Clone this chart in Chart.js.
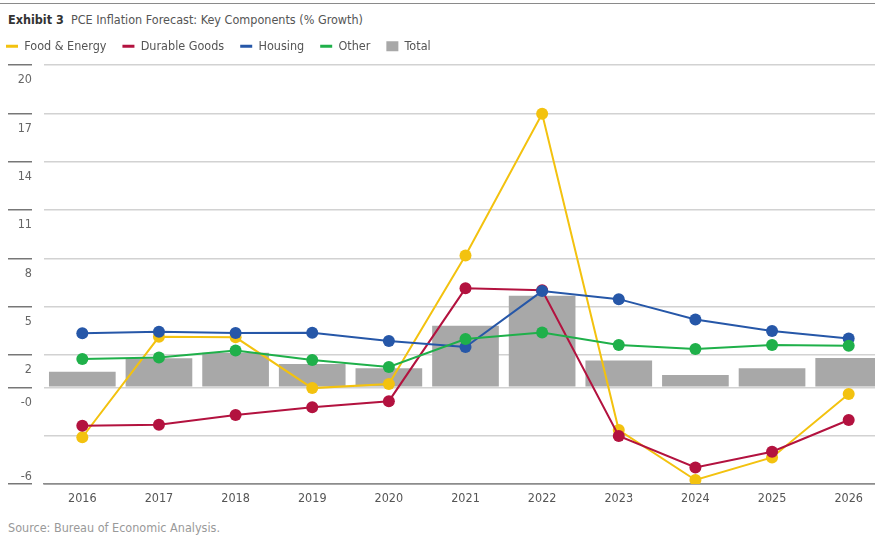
<!DOCTYPE html>
<html>
<head>
<meta charset="utf-8">
<script src="https://cdn.jsdelivr.net/npm/chart.js@4"></script>
<style>
  body { margin: 0; background: #fff; overflow: hidden; width: 875px; height: 536px; position: relative;
         font-family: "DejaVu Sans Condensed", sans-serif; }
  #rule { position: absolute; left: 0; top: 3px; width: 875px; border-top: 1px solid #8a8a8a; }
  #title { position: absolute; left: 8px; top: 12px; font-size: 12.5px; color: #555; white-space: nowrap; }
  #title b { color: #333; }
  #source { position: absolute; left: 8px; top: 520px; font-size: 12.5px; color: #999; }
  /* el lienzo es más ancho que la ventana: la última barra queda cortada como en el original */
  #wrap { position: absolute; left: -10px; top: 24px; width: 903px; height: 489px; }
</style>
</head>
<body>
<div id="rule"></div>
<div id="title"><b>Exhibit 3</b>&nbsp; PCE Inflation Forecast: Key Components (% Growth)</div>
<div id="wrap"><canvas id="chart" width="903" height="489"></canvas></div>
<div id="source">Source: Bureau of Economic Analysis.</div>
<script>
// Años del eje X
const years = ['2016', '2017', '2018', '2019', '2020', '2021', '2022', '2023', '2024', '2025', '2026'];

// Valores (% crecimiento)
const foodEnergy = [-3.1, 3.13, 3.1, -0.05, 0.2, 8.18, 16.97, -2.65, -5.75, -4.35, -0.42];
const durableGoods = [-2.38, -2.33, -1.72, -1.24, -0.86, 6.14, 6.02, -3.02, -4.97, -4.0, -2.03];
const housing = [3.36, 3.45, 3.37, 3.38, 2.88, 2.5, 5.97, 5.47, 4.21, 3.5, 3.03];
const other = [1.76, 1.85, 2.28, 1.7, 1.26, 3.0, 3.4, 2.63, 2.37, 2.62, 2.58];
const total = [0.96, 1.8, 2.14, 1.45, 1.18, 3.82, 5.68, 1.66, 0.77, 1.18, 1.82];

// Marcas del eje Y y sus etiquetas
const yTickValues = [-6, -3, 0, 2, 5, 8, 11, 14, 17, 20];
const yTickLabels = ['-6', '', '-0', '2', '5', '8', '11', '14', '17', '20'];

const FONT = '"DejaVu Sans Condensed", sans-serif';

function lineSet(label, values, color, order) {
    return {
        type: 'line',
        label: label,
        data: values,
        borderColor: color,
        backgroundColor: color,
        borderWidth: 2,
        pointRadius: 6,
        pointHoverRadius: 6,
        pointBorderWidth: 0,
        pointBackgroundColor: color,
        tension: 0,
        order: order // más bajo = se dibuja encima
    };
}

const ctx = document.getElementById('chart').getContext('2d');

const chart = new Chart(ctx, {
    type: 'bar',
    data: {
        labels: years,
        datasets: [
            lineSet('Food & Energy', foodEnergy, '#f3c20f', 4),
            lineSet('Durable Goods', durableGoods, '#b3123f', 3),
            lineSet('Housing', housing, '#2657a8', 2),
            lineSet('Other', other, '#1fb04a', 1),
            {
                type: 'bar',
                label: 'Total',
                data: total,
                backgroundColor: '#a8a8a8',
                categoryPercentage: 1,
                barPercentage: 0.87,
                order: 5
            }
        ]
    },
    options: {
        responsive: false,
        animation: false,
        layout: { padding: 0 },
        plugins: {
            tooltip: { enabled: false },
            legend: {
                position: 'top',
                align: 'start',
                labels: {
                    usePointStyle: true,
                    pointStyleWidth: 12,
                    boxHeight: 10,
                    padding: 16,
                    color: '#555',
                    font: { family: FONT, size: 12.5 },
                    // Leyenda en el orden de los datasets: líneas cortas y un cuadrado para el total
                    generateLabels: function (chart) {
                        return chart.data.datasets.map((ds, i) => {
                            const isLine = ds.type === 'line';
                            return {
                                text: ds.label,
                                fillStyle: isLine ? ds.borderColor : ds.backgroundColor,
                                strokeStyle: isLine ? ds.borderColor : ds.backgroundColor,
                                lineWidth: isLine ? 3 : 0,
                                pointStyle: isLine ? 'line' : 'rect',
                                fontColor: '#555',
                                hidden: false,
                                datasetIndex: i
                            };
                        });
                    }
                }
            }
        },
        scales: {
            x: {
                offset: true,
                grid: { display: false, drawTicks: false },
                border: { display: true, color: '#8c8c8c', width: 1.5 },
                ticks: { color: '#555', padding: 7, font: { family: FONT, size: 12.5 } }
            },
            y: {
                min: -6,
                max: 20.155,
                afterBuildTicks: function (scale) {
                    scale.ticks = yTickValues.map(v => ({ value: v }));
                },
                afterFit: function (scale) {
                    scale.width = 54;
                },
                border: { display: false },
                grid: {
                    color: c => (c.tick && c.tick.value === -6) ? '#8c8c8c' : '#d2d2d2',
                    lineWidth: 1.5,
                    drawTicks: true,
                    tickLength: 36,
                    tickWidth: 1.5,
                    tickColor: c => (c.tick && c.tick.value === -3) ? 'rgba(0,0,0,0)' : '#777',
                    tickBorderDash: [24, 100] // marca corta a la izquierda y hueco antes de la rejilla
                },
                ticks: {
                    autoSkip: false,
                    padding: -24,
                    color: '#666',
                    font: { family: FONT, size: 12.5 },
                    callback: function (value) {
                        const label = yTickLabels[yTickValues.indexOf(value)];
                        // La etiqueta va debajo de la línea, salvo la última que va encima
                        if (value === -6) return [label, ''];
                        return ['', '', label];
                    }
                }
            }
        }
    }
});
</script>
</body>
</html>
